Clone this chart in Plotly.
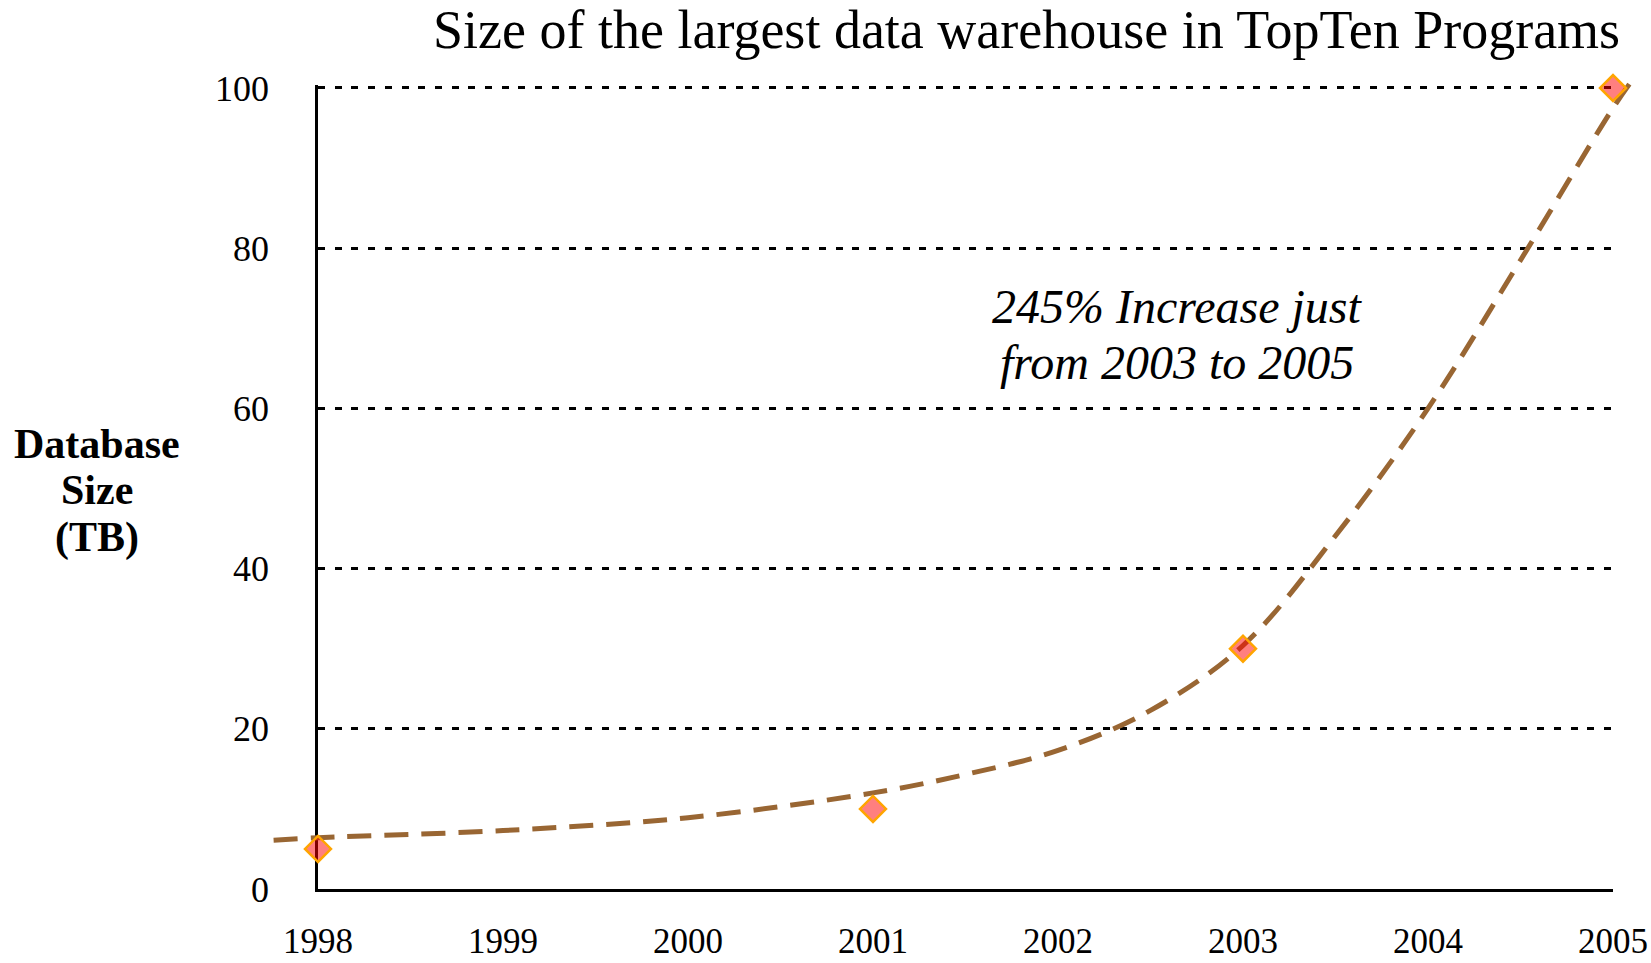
import plotly.graph_objects as go

# ---------------- data ----------------
years = [1998, 2001, 2003, 2005]
db_size_tb = [5, 10, 30, 100]

# dashed trend curve
trend_years = [1997.76, 1998, 1999, 2000, 2001, 2001.5, 2002, 2002.5,
               2003, 2003.5, 2004, 2004.5, 2005, 2005.12]
trend_values = [6.1, 6.4, 7.3, 8.9, 12.0, 14.3, 17.3, 22.3,
                30.4, 44.1, 60.0, 78.5, 97.5, 101.5]

x_ticks = [1998, 1999, 2000, 2001, 2002, 2003, 2004, 2005]
x_tick_labels = [str(v) for v in x_ticks]
y_ticks = [0, 20, 40, 60, 80, 100]
y_tick_labels = [str(v) for v in y_ticks]

title_text = "Size of the largest data warehouse in TopTen Programs"
y_title_lines = ["Database", "Size", "(TB)"]
note_lines = ["245% Increase just", "from 2003 to 2005"]

# ---------------- layout geometry (page pixels) ----------------
W, H = 1651, 963
FONT = "Liberation Serif, Times New Roman, serif"


def dx(px):
    return px / W


def dy(px):
    return 1 - px / H


X0, X1 = 318, 1613      # page columns of first / last year
Y0, YTOP = 889, 88      # page rows of 0 and 100
x_range = [1998, 2005]
y_range = [0, 100]
px_per_year = (X1 - X0) / (x_range[1] - x_range[0])
px_per_unit = (Y0 - YTOP) / (y_range[1] - y_range[0])

# the visible y range is padded a hair so the top grid line is drawn
y_vis_range = [0, 100.4]
y_vis_top = Y0 - y_vis_range[1] * px_per_unit

# wider, invisible subplot with identical scale so the trend line may overhang
x2_range = [1997.7, 2005.15]
y2_range = [0, 105]
x2_left = X0 + (x2_range[0] - x_range[0]) * px_per_year
x2_right = X0 + (x2_range[1] - x_range[0]) * px_per_year
y2_top = Y0 - (y2_range[1] - y_range[0]) * px_per_unit

fig = go.Figure()

# anchor trace for the visible axes
fig.add_trace(go.Scatter(x=[], y=[], xaxis="x", yaxis="y",
                         showlegend=False, hoverinfo="skip"))

fig.add_trace(go.Scatter(
    x=trend_years, y=trend_values, xaxis="x2", yaxis="y2",
    mode="lines", line=dict(color="#996633", width=5, dash="24px,13px",
                            shape="spline", smoothing=1.0),
    showlegend=False, hoverinfo="skip"))

fig.add_trace(go.Scatter(
    x=years, y=db_size_tb, xaxis="x2", yaxis="y2", mode="markers",
    marker=dict(symbol="diamond", size=20, color="rgba(255,0,0,0.5)",
                line=dict(color="#FFA500", width=2.5)),
    cliponaxis=False, showlegend=False))

annotations = [
    dict(text=title_text, x=dx(1026), y=dy(30), xref="paper", yref="paper",
         xanchor="center", yanchor="middle", showarrow=False,
         font=dict(family=FONT, size=54, color="black")),
]
for line, ypx in zip(y_title_lines, [444, 490, 537]):
    annotations.append(dict(text="<b>" + line + "</b>", x=dx(97), y=dy(ypx),
                            xref="paper", yref="paper", xanchor="center",
                            yanchor="middle", showarrow=False,
                            font=dict(family=FONT, size=42, color="black")))
for line, ypx in zip(note_lines, [306, 363]):
    annotations.append(dict(text="<i>" + line + "</i>", x=dx(1177), y=dy(ypx),
                            xref="paper", yref="paper", xanchor="center",
                            yanchor="middle", showarrow=False,
                            font=dict(family=FONT, size=48, color="black")))

fig.update_layout(
    width=W, height=H,
    margin=dict(l=0, r=0, t=0, b=0, autoexpand=False),
    paper_bgcolor="white", plot_bgcolor="rgba(0,0,0,0)",
    showlegend=False,
    font=dict(family=FONT, color="black"),
    xaxis=dict(domain=[dx(X0), dx(X1)], range=x_range, anchor="y",
               tickmode="array", tickvals=x_ticks, ticktext=x_tick_labels,
               showgrid=False, zeroline=False, showline=True,
               linecolor="black", linewidth=2.5, ticks="",
               ticklabelstandoff=19, automargin=False,
               tickfont=dict(family=FONT, size=35, color="black")),
    yaxis=dict(domain=[dy(Y0), dy(y_vis_top)], range=y_vis_range, anchor="x",
               tickmode="array", tickvals=y_ticks, ticktext=y_tick_labels,
               showgrid=True, gridcolor="black", gridwidth=3,
               griddash="7px,9.7px", zeroline=False, showline=True,
               linecolor="black", linewidth=2.5, ticks="",
               ticklabelstandoff=39, automargin=False,
               tickfont=dict(family=FONT, size=36, color="black")),
    xaxis2=dict(domain=[dx(x2_left), dx(x2_right)], range=x2_range,
                anchor="y2", visible=False),
    yaxis2=dict(domain=[dy(Y0), dy(y2_top)], range=y2_range,
                anchor="x2", visible=False),
    annotations=annotations,
)

fig.write_html(
    "out.html",
    config={"displayModeBar": False},
    post_script="document.body.style.margin='0px';"
                "document.body.style.overflow='hidden';",
)
